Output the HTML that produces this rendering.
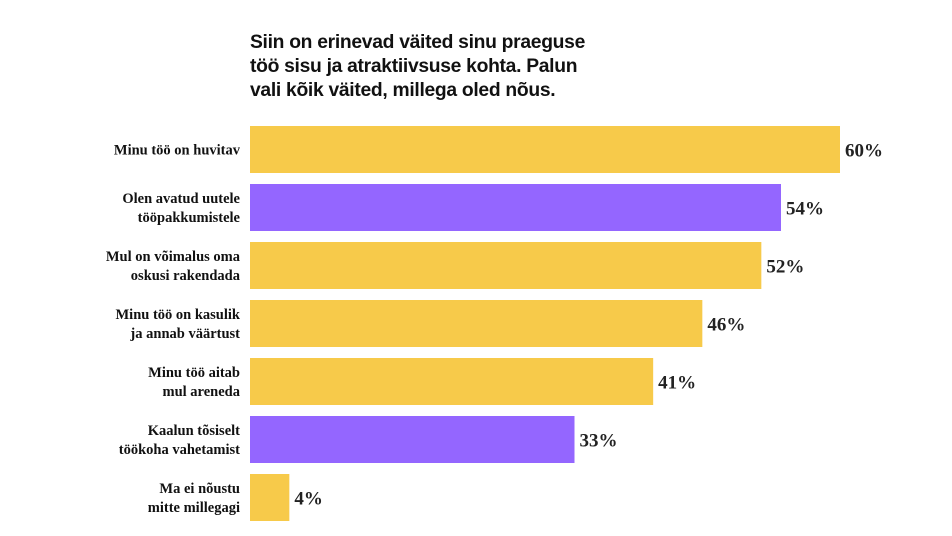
<!DOCTYPE html>
<html><head><meta charset="utf-8"><style>
body{margin:0;width:952px;height:536px;background:#fff;overflow:hidden;position:relative;font-family:"Liberation Serif",serif;}
#title{position:absolute;left:250px;top:31px;white-space:nowrap;font-family:"Liberation Sans",sans-serif;font-weight:bold;font-size:19.3px;line-height:24px;color:#111;letter-spacing:-0.3px}
svg{position:absolute;left:0;top:0}
</style></head><body>
<div id="title">Siin on erinevad väited sinu praeguse<br>töö sisu ja atraktiivsuse kohta. Palun<br>vali kõik väited, millega oled nõus.</div>
<svg id="chart" width="952" height="536"></svg>
<script>
const labels=[["Minu töö on huvitav"],["Olen avatud uutele","tööpakkumistele"],["Mul on võimalus oma","oskusi rakendada"],["Minu töö on kasulik","ja annab väärtust"],["Minu töö aitab","mul areneda"],["Kaalun tõsiselt","töökoha vahetamist"],["Ma ei nõustu","mitte millegagi"]];
const values=[60,54,52,46,41,33,4];
const highlight=[false,true,false,false,false,true,false];
const NS="http://www.w3.org/2000/svg";
const svg=document.getElementById('chart');
const x0=250, scale=590/60;
const xScale=v=>v*scale;
const yScale=i=>126+i*58;
const bh=47;
function mk(t,a){const e=document.createElementNS(NS,t);for(const k in a)e.setAttribute(k,a[k]);svg.appendChild(e);return e;}
values.forEach((v,i)=>{
  const y=yScale(i);
  const r=mk('rect',{x:x0,y:y,width:xScale(v),height:bh,fill:highlight[i]?'#9466FF':'#F7CA4A'});
  
  
  const t=mk('text',{x:x0+xScale(v)+5,y:y+bh/2+7,'font-size':'19','font-weight':'bold',fill:'#222','font-family':'Liberation Serif, serif'});
  t.textContent=v+'%';
  
  
  const L=labels[i];
  const lt=mk('text',{x:240,'text-anchor':'end','font-size':'14.5','font-weight':'bold',fill:'#111','font-family':'Liberation Serif, serif'});
  
  
  const start=y+bh/2+5-(L.length-1)*9.5;
  L.forEach((s,j)=>{const ts=document.createElementNS(NS,'tspan');ts.setAttribute('x',240);ts.setAttribute('y',start+j*19);ts.textContent=s;lt.appendChild(ts);});
});
</script>
</body></html>
